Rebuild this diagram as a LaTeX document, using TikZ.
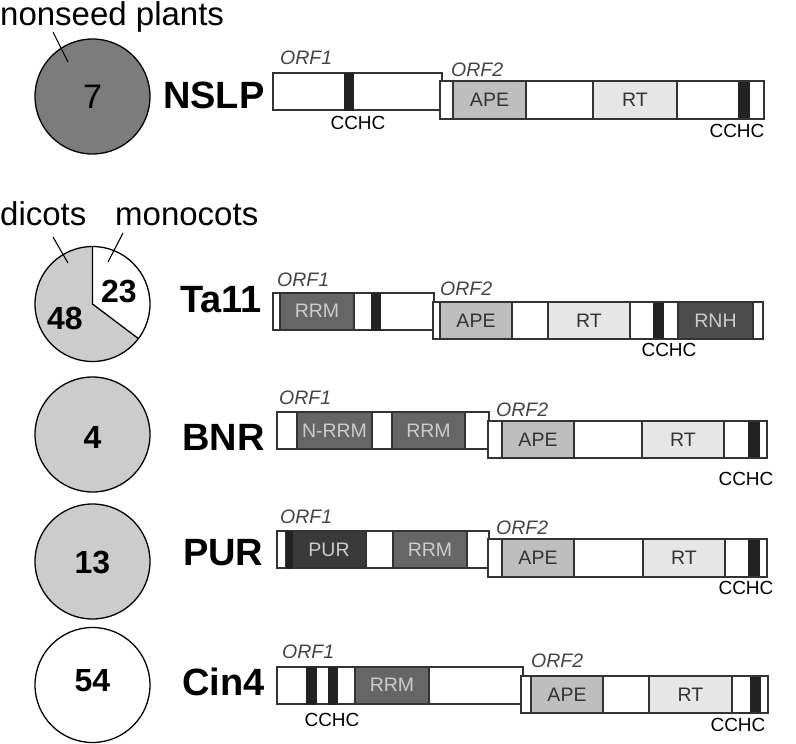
\documentclass[tikz,border=0pt]{standalone}
\usepackage{fontspec}
\setmainfont{Liberation Sans}
\definecolor{linec}{HTML}{333333}
\definecolor{barc}{HTML}{222222}
\definecolor{apec}{HTML}{BEBEBE}
\definecolor{rtc}{HTML}{E6E6E6}
\definecolor{rrmc}{HTML}{666666}
\definecolor{rnhc}{HTML}{4D4D4D}
\definecolor{purc}{HTML}{3A3A3A}
\definecolor{nslpc}{HTML}{7C7C7C}
\definecolor{lightc}{HTML}{CCCCCC}
\definecolor{orfc}{HTML}{444444}
\tikzset{
  orfbox/.style={draw=linec, line width=1.3pt, fill=white},
  dombox/.style={draw=linec, line width=1.3pt},
  apebox/.style={dombox, fill=apec},
  rtbox/.style={dombox, fill=rtc},
  rrmbox/.style={dombox, fill=rrmc},
  rnhbox/.style={dombox, fill=rnhc},
  purbox/.style={dombox, fill=purc},
  barbox/.style={draw=barc, line width=0.8pt, fill=barc},
  domtxt/.style={inner sep=0pt, font=\fontsize{19.5}{21}\selectfont, text=linec},
  domtxtl/.style={domtxt, text=lightc},
  orftxt/.style={inner sep=0pt, anchor=west, font=\fontsize{19.5}{21}\selectfont\itshape, text=orfc},
  cchctxt/.style={inner sep=0pt, font=\fontsize{19}{21}\selectfont, text=black},
  nametxt/.style={inner sep=0pt, anchor=west, font=\fontsize{38}{40}\selectfont\bfseries},
  numtxt/.style={inner sep=0pt, font=\fontsize{32}{34}\selectfont\bfseries},
  grptxt/.style={inner sep=0pt, font=\fontsize{33}{36}\selectfont},
  circ/.style={draw=black, line width=1.3pt},
  leader/.style={draw=black, line width=1.1pt}
}
\newcommand\dbox[5]{\draw[#5] (#1,#3) rectangle (#2,#4);}
\begin{document}
\begin{tikzpicture}[x=1pt,y=-1pt]
\useasboundingbox (0,0) rectangle (796,744);
% ---------------- NSLP ----------------
\node[circ, fill=nslpc, circle, minimum size=115pt, inner sep=0pt] (c1) at (92.5,96.5) {};
\node[inner sep=0pt, font=\fontsize{34}{36}\selectfont] (n1) at (92.5,97) {7};
\node[grptxt, anchor=base west] (g1) at (0,25) {nonseed plants};
\coordinate (g1a) at (53,32);
\coordinate (g1b) at (68,62);
\draw[leader] (g1a) -- (g1b);
\node[nametxt] (l1) at (163,95) {NSLP};
\dbox{273}{442}{73}{110}{orfbox}
\dbox{344}{353}{73}{110}{barbox}
\dbox{440}{764}{81}{119}{orfbox}
\dbox{453}{526}{81}{119}{apebox}
\dbox{593}{677}{81}{119}{rtbox}
\dbox{738}{749}{81}{119}{barbox}
\draw[orfbox, fill=none] (440,81) rectangle (764,119);
\node[domtxt] (a1) at (489.5,100) {APE};
\node[domtxt] (r1) at (635,100) {RT};
\node[orftxt] (o11) at (280,58) {ORF1};
\node[orftxt] (o12) at (451,70) {ORF2};
\node[cchctxt] (k11) at (358,123) {CCHC};
\node[cchctxt] (k12) at (737,131) {CCHC};
% ---------------- Ta11 ----------------
\coordinate (pc) at (92.5,304);
\coordinate (ptop) at (92.5,246.5);
\coordinate (pend) at (138.4,338.6);
\fill[lightc] (pc) circle (57.5);
\fill[white] (pc) -- (ptop) arc[start angle=-90, end angle=37, radius=57.5] -- cycle;
\draw[line width=1.3pt] (ptop) -- (pc) -- (pend);
\node[circ, circle, minimum size=115pt, inner sep=0pt] (c2) at (pc) {};
\node[numtxt] (n2a) at (119,292) {23};
\node[numtxt] (n2b) at (65,318) {48};
\node[grptxt, anchor=base west] (g2) at (0,225) {dicots};
\node[grptxt, anchor=base west] (g3) at (115,225) {monocots};
\coordinate (g2a) at (53,237);
\coordinate (g2b) at (68,263);
\coordinate (g3a) at (123,233);
\coordinate (g3b) at (108,262);
\draw[leader] (g2a) -- (g2b);
\draw[leader] (g3a) -- (g3b);
\node[nametxt] (l2) at (180,300) {Ta11};
\dbox{273}{434}{293}{330}{orfbox}
\dbox{280}{354}{293}{330}{rrmbox}
\dbox{371}{380}{293}{330}{barbox}
\dbox{433}{763}{302}{339}{orfbox}
\dbox{440}{512}{302}{339}{apebox}
\dbox{548}{630}{302}{339}{rtbox}
\dbox{653}{663}{302}{339}{barbox}
\dbox{678}{753}{302}{339}{rnhbox}
\draw[orfbox, fill=none] (433,302) rectangle (763,339);
\node[domtxtl] (m2) at (317,311) {RRM};
\node[domtxt] (a2) at (476,320.5) {APE};
\node[domtxt] (r2) at (589,320.5) {RT};
\node[domtxtl] (h2) at (715.5,320.5) {RNH};
\node[orftxt] (o21) at (277,280) {ORF1};
\node[orftxt] (o22) at (440,289) {ORF2};
\node[cchctxt] (k21) at (669,350) {CCHC};
% ---------------- BNR ----------------
\node[circ, fill=lightc, circle, minimum size=115pt, inner sep=0pt] (c3) at (92.5,434.5) {};
\node[numtxt] (n3) at (92.5,437) {4};
\node[nametxt] (l3) at (182,437) {BNR};
\dbox{277}{489}{412}{449}{orfbox}
\dbox{297}{372}{412}{449}{rrmbox}
\dbox{392}{465}{412}{449}{rrmbox}
\dbox{488}{767}{421}{458}{orfbox}
\dbox{502}{574}{421}{458}{apebox}
\dbox{642}{724}{421}{458}{rtbox}
\dbox{748}{759}{421}{458}{barbox}
\draw[orfbox, fill=none] (488,421) rectangle (767,458);
\node[domtxtl] (m3a) at (334.5,430.5) {N-RRM};
\node[domtxtl] (m3b) at (428.5,430.5) {RRM};
\node[domtxt] (a3) at (538,439.5) {APE};
\node[domtxt] (r3) at (683,439.5) {RT};
\node[orftxt] (o31) at (279,398) {ORF1};
\node[orftxt] (o32) at (496,410) {ORF2};
\node[cchctxt] (k31) at (746,479) {CCHC};
% ---------------- PUR ----------------
\node[circ, fill=lightc, circle, minimum size=115pt, inner sep=0pt] (c4) at (92.5,561.5) {};
\node[numtxt] (n4) at (92.5,563) {13};
\node[nametxt] (l4) at (183,553) {PUR};
\dbox{277}{489}{531}{568}{orfbox}
\dbox{286}{366}{531}{568}{purbox}
\dbox{286}{292}{531}{568}{barbox}
\dbox{393}{467}{531}{568}{rrmbox}
\dbox{488}{767}{539}{577}{orfbox}
\dbox{502}{574}{539}{577}{apebox}
\dbox{643}{725}{539}{577}{rtbox}
\dbox{748}{759}{539}{577}{barbox}
\draw[orfbox, fill=none] (488,539) rectangle (767,577);
\node[domtxtl] (p4) at (329,550) {PUR};
\node[domtxtl] (m4) at (430,549.5) {RRM};
\node[domtxt] (a4) at (538,558) {APE};
\node[domtxt] (r4) at (684,558) {RT};
\node[orftxt] (o41) at (280,517) {ORF1};
\node[orftxt] (o42) at (496,528) {ORF2};
\node[cchctxt] (k41) at (746,588) {CCHC};
% ---------------- Cin4 ----------------
\node[circ, fill=white, circle, minimum size=115pt, inner sep=0pt] (c5) at (92.5,685) {};
\node[numtxt] (n5) at (92.5,681) {54};
\node[nametxt] (l5) at (182,682) {Cin4};
\dbox{277}{523}{667}{704}{orfbox}
\dbox{306}{316}{667}{704}{barbox}
\dbox{328}{337}{667}{704}{barbox}
\dbox{355}{429}{667}{704}{rrmbox}
\dbox{521}{768}{676}{713}{orfbox}
\dbox{531}{603}{676}{713}{apebox}
\dbox{649}{732}{676}{713}{rtbox}
\dbox{750}{760}{676}{713}{barbox}
\draw[orfbox, fill=none] (521,676) rectangle (768,713);
\node[domtxtl] (m5) at (392,685) {RRM};
\node[domtxt] (a5) at (567,694.5) {APE};
\node[domtxt] (r5) at (690.5,694.5) {RT};
\node[orftxt] (o51) at (282,652) {ORF1};
\node[orftxt] (o52) at (531,661) {ORF2};
\node[cchctxt] (k51) at (332,720) {CCHC};
\node[cchctxt] (k52) at (738,725) {CCHC};
\end{tikzpicture}
\end{document}
